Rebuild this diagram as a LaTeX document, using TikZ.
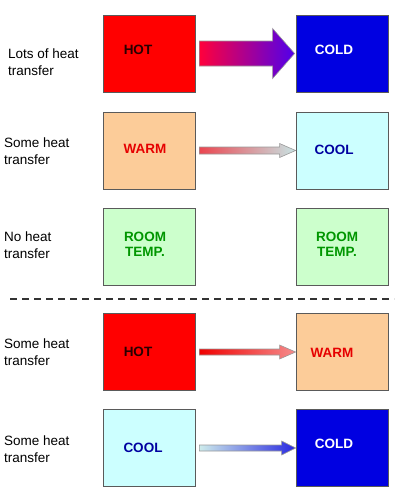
\documentclass[tikz,border=0pt]{standalone}
\usepackage{fontspec}
\setmainfont{Liberation Sans}
\usetikzlibrary{calc}
\definecolor{hotred}{RGB}{255,0,0}
\definecolor{coldblue}{RGB}{0,0,225}
\definecolor{warmfill}{RGB}{252,204,153}
\definecolor{coolfill}{RGB}{204,255,255}
\definecolor{roomfill}{RGB}{204,255,204}
\definecolor{roomtext}{RGB}{0,150,0}
\definecolor{cooltext}{RGB}{0,0,160}
\definecolor{warmtext}{RGB}{230,0,0}
\definecolor{hottext}{RGB}{40,0,0}
\definecolor{boxline}{RGB}{90,90,90}
\tikzset{
  box/.style={draw=boxline, line width=0.8pt, minimum width=92pt, minimum height=77pt, inner sep=0pt},
  boxtext/.style={font=\fontsize{13.5}{15.5}\selectfont\bfseries, align=center, inner sep=0pt},
  side/.style={font=\fontsize{13.5}{17}\selectfont, align=left, anchor=west, inner sep=0pt},
  arr/.style={draw=gray!80, line width=0.6pt}
}
\begin{document}
\begin{tikzpicture}[x=1pt,y=1pt]
\useasboundingbox (0,0) rectangle (400,-496);
% boxes
\node[box, fill=hotred] (b1l) at (149,-53.5) {};
\node[box, fill=coldblue] (b1r) at (342,-53.5) {};
\node[box, fill=warmfill] (b2l) at (149,-150.5) {};
\node[box, fill=coolfill] (b2r) at (342,-150.5) {};
\node[box, fill=roomfill] (b3l) at (149,-246.5) {};
\node[box, fill=roomfill] (b3r) at (342,-246.5) {};
\node[box, fill=hotred] (b4l) at (149,-352) {};
\node[box, fill=warmfill] (b4r) at (342,-352) {};
\node[box, fill=coolfill] (b5l) at (149,-448) {};
\node[box, fill=coldblue] (b5r) at (342,-448) {};
% box texts
\node[boxtext, text=hottext] (t1l) at (138,-50) {HOT};
\node[boxtext, text=white] (t1r) at (334,-50) {COLD};
\node[boxtext, text=warmtext] (t2l) at (145,-149) {WARM};
\node[boxtext, text=cooltext] (t2r) at (334,-150) {COOL};
\node[boxtext, text=roomtext] (t3l) at (145,-244.5) {ROOM\\TEMP.};
\node[boxtext, text=roomtext] (t3r) at (337,-244.5) {ROOM\\TEMP.};
\node[boxtext, text=hottext] (t4l) at (138,-352) {HOT};
\node[boxtext, text=warmtext] (t4r) at (332,-353) {WARM};
\node[boxtext, text=cooltext] (t5l) at (143,-448) {COOL};
\node[boxtext, text=white] (t5r) at (334,-444) {COLD};
% side labels
\node[side] (s1) at (8,-62) {Lots of heat\\transfer};
\node[side] (s2) at (4,-151) {Some heat\\transfer};
\node[side] (s3) at (4,-245) {No heat\\transfer};
\node[side] (s4) at (4,-352) {Some heat\\transfer};
\node[side] (s5) at (4,-449.5) {Some heat\\transfer};
% big arrow row 1
\path[arr, left color={rgb,255:red,255;green,0;blue,60}, right color={rgb,255:red,80;green,0;blue,235}]
  ($(b1l.east)+(4,12.5)$) -- ($(b1r.west)+(-23,12.5)$) -- ($(b1r.west)+(-23,25)$) -- ($(b1r.west)+(-1,0)$)
  -- ($(b1r.west)+(-23,-25)$) -- ($(b1r.west)+(-23,-12.5)$) -- ($(b1l.east)+(4,-12.5)$) -- cycle;
% row 2
\path[arr, left color={rgb,255:red,235;green,70;blue,80}, right color={rgb,255:red,200;green,228;blue,228}]
  ($(b2l.east)+(4,3.5)$) -- ($(b2r.west)+(-16,3.5)$) -- ($(b2r.west)+(-16,7)$) -- ($(b2r.west)+(0,0)$)
  -- ($(b2r.west)+(-16,-7)$) -- ($(b2r.west)+(-16,-3.5)$) -- ($(b2l.east)+(4,-3.5)$) -- cycle;
% row 4
\path[arr, left color={rgb,255:red,240;green,0;blue,0}, right color={rgb,255:red,245;green,140;blue,140}]
  ($(b4l.east)+(4,3)$) -- ($(b4r.west)+(-16,3)$) -- ($(b4r.west)+(-16,7)$) -- ($(b4r.west)+(0,0)$)
  -- ($(b4r.west)+(-16,-7)$) -- ($(b4r.west)+(-16,-3)$) -- ($(b4l.east)+(4,-3)$) -- cycle;
% row 5
\path[arr, left color={rgb,255:red,205;green,235;blue,235}, right color={rgb,255:red,40;green,40;blue,225}]
  ($(b5l.east)+(4,3)$) -- ($(b5r.west)+(-14,3)$) -- ($(b5r.west)+(-14,7)$) -- ($(b5r.west)+(0,0)$)
  -- ($(b5r.west)+(-14,-7)$) -- ($(b5r.west)+(-14,-3)$) -- ($(b5l.east)+(4,-3)$) -- cycle;
% dashed separator
\coordinate (dl) at (10,-299);
\coordinate (dr) at (394,-299);
\draw[line width=1.5pt, dash pattern=on 7pt off 5pt, black!80] (dl) -- (dr);
\end{tikzpicture}
\end{document}
